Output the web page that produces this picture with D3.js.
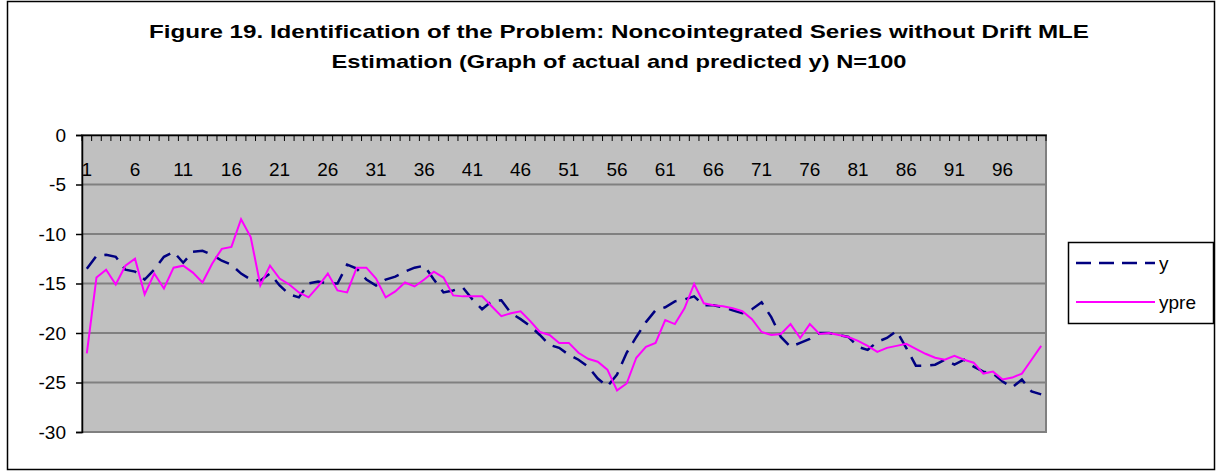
<!DOCTYPE html>
<html>
<head>
<meta charset="utf-8">
<script src="https://cdn.jsdelivr.net/npm/d3@7"></script>
<style>
  body { margin: 0; background: #fff; }
  text { font-family: Arial, "Liberation Sans", sans-serif; }
</style>
</head>
<body>
<div id="chart"></div>
<script>
// categories 1..100
const categories = d3.range(1, 101);

// actual y (dashed navy)
const yActual = [
  -13.5, -12.2, -12.1, -12.3, -13.6, -13.8, -14.6, -13.6, -12.3, -11.8,
  -12.9, -11.8, -11.7, -12.1, -12.7, -13.1, -14.0, -14.6, -14.7, -14.0,
  -15.2, -16.1, -16.4, -15.0, -14.8, -15.0, -15.0, -13.1, -13.5, -14.6,
  -15.2, -14.6, -14.3, -13.8, -13.4, -13.2, -14.6, -15.9, -15.7, -15.4,
  -16.6, -17.6, -16.8, -16.7, -18.0, -18.6, -19.3, -20.2, -21.2, -21.5,
  -22.2, -22.7, -23.4, -24.6, -25.4, -24.2, -22.0, -20.4, -18.9, -17.7,
  -17.4, -16.8, -16.6, -16.3, -17.2, -17.2, -17.4, -17.7, -18.0, -17.6,
  -16.9, -18.4, -20.4, -21.4, -21.0, -20.6, -20.0, -20.0, -20.2, -20.4,
  -21.4, -21.7, -20.9, -20.5, -19.8, -21.5, -23.3, -23.3, -23.2, -22.7,
  -23.2, -22.7, -23.4, -23.9, -24.1, -24.9, -25.5, -24.7, -25.9, -26.2
];

// predicted y (solid magenta)
const yPred = [
  -22.05, -14.4, -13.6, -15.1, -13.2, -12.5, -16.1, -14.0, -15.5, -13.4,
  -13.2, -13.9, -14.9, -13.0, -11.5, -11.3, -8.5, -10.3, -15.2, -13.2,
  -14.5, -15.1, -15.9, -16.4, -15.3, -14.0, -15.7, -15.9, -13.4, -13.4,
  -14.5, -16.4, -15.8, -14.9, -15.3, -14.6, -13.8, -14.4, -16.2, -16.3,
  -16.3, -16.3, -17.3, -18.3, -18.0, -17.8, -18.8, -19.9, -20.2, -21.0,
  -21.0, -22.0, -22.6, -22.9, -23.7, -25.8, -25.1, -22.5, -21.4, -21.0,
  -18.7, -19.1, -17.5, -15.05, -17.0, -17.2, -17.3, -17.5, -17.8, -18.6,
  -19.9, -20.2, -20.1, -19.1, -20.5, -19.1, -20.1, -20.0, -20.2, -20.4,
  -20.8, -21.3, -21.9, -21.5, -21.3, -21.1, -21.6, -22.1, -22.5, -22.7,
  -22.3, -22.7, -23.0, -24.1, -23.9, -24.7, -24.5, -24.1, -22.7, -21.3
];

const xLabels = d3.range(1, 101, 5);
const yTicks = [0, -5, -10, -15, -20, -25, -30];

const titleLines = [
  "Figure 19. Identification of the Problem: Noncointegrated Series without Drift MLE",
  "Estimation (Graph of actual and predicted y) N=100"
];

const width = 1221, height = 474;
const plot = { left: 82, right: 1046, top: 135, bottom: 432 };

const svg = d3.select("#chart").append("svg")
  .attr("width", width)
  .attr("height", height);

// outer chart border
svg.append("rect")
  .attr("x", 7.5).attr("y", 1.5)
  .attr("width", 1207).attr("height", 468)
  .attr("fill", "#fff")
  .attr("stroke", "#000")
  .attr("stroke-width", 1.5);

// title
svg.selectAll("text.title")
  .data(titleLines)
  .enter().append("text")
  .attr("class", "title")
  .attr("x", 619)
  .attr("y", (d, i) => 38 + i * 30)
  .attr("text-anchor", "middle")
  .attr("font-size", "19px")
  .attr("font-weight", "bold")
  .attr("textLength", (d, i) => i === 0 ? 940 : 575)
  .attr("lengthAdjust", "spacingAndGlyphs")
  .text(d => d);

const x = d3.scaleBand()
  .domain(categories)
  .range([plot.left, plot.right])
  .padding(0);

const y = d3.scaleLinear()
  .domain([-30, 0])
  .range([plot.bottom, plot.top]);

// plot area
svg.append("rect")
  .attr("x", plot.left).attr("y", plot.top)
  .attr("width", plot.right - plot.left)
  .attr("height", plot.bottom - plot.top)
  .attr("fill", "#c0c0c0")
  .attr("stroke", "#808080")
  .attr("stroke-width", 2);

// gridlines
svg.append("g")
  .selectAll("line")
  .data(yTicks.filter(d => d !== 0 && d !== -30))
  .enter().append("line")
  .attr("x1", plot.left).attr("x2", plot.right)
  .attr("y1", d => y(d)).attr("y2", d => y(d))
  .attr("stroke", "#808080")
  .attr("stroke-width", 2);

// y axis
const yAxis = svg.append("g")
  .attr("transform", `translate(${plot.left},0)`)
  .call(d3.axisLeft(y).tickValues(yTicks).tickSize(6).tickPadding(10).tickFormat(d => String(d)));
yAxis.select(".domain").attr("stroke", "#000").attr("stroke-width", 1.5);
yAxis.selectAll(".tick line").attr("stroke", "#000").attr("stroke-width", 1.5);
yAxis.selectAll("text")
  .attr("font-size", "19px")
  .attr("font-family", "Arial, 'Liberation Sans', sans-serif")
  .attr("fill", "#000");

// category axis along y = 0 (top of the plot)
const xAxis = svg.append("g")
  .attr("transform", `translate(0,${y(0)})`)
  .call(d3.axisBottom(x).tickValues(xLabels).tickSize(0).tickPadding(28));
xAxis.select(".domain").attr("stroke", "#000").attr("stroke-width", 1.5);
xAxis.selectAll("text")
  .attr("font-size", "19px")
  .attr("font-family", "Arial, 'Liberation Sans', sans-serif")
  .attr("fill", "#000");

// small tick marks between categories
svg.append("g")
  .selectAll("line")
  .data(categories.concat([101]))
  .enter().append("line")
  .attr("x1", d => d === 101 ? plot.right : x(d))
  .attr("x2", d => d === 101 ? plot.right : x(d))
  .attr("y1", y(0))
  .attr("y2", y(0) + 6)
  .attr("stroke", "#000")
  .attr("stroke-width", 1);

const cx = d => x(d) + x.bandwidth() / 2;

// actual y
svg.append("path")
  .datum(categories.map((c, i) => [c, yActual[i]]))
  .attr("fill", "none")
  .attr("stroke", "#000080")
  .attr("stroke-width", 2.5)
  .attr("stroke-dasharray", "15,9")
  .attr("d", d3.line().x(d => cx(d[0])).y(d => y(d[1])));

// predicted y
svg.append("path")
  .datum(categories.map((c, i) => [c, yPred[i]]))
  .attr("fill", "none")
  .attr("stroke", "#ff00ff")
  .attr("stroke-width", 2)
  .attr("d", d3.line().x(d => cx(d[0])).y(d => y(d[1])));

// legend
const legend = svg.append("g").attr("transform", "translate(1068,242)");
legend.append("rect")
  .attr("x", 0.5).attr("y", 0.5)
  .attr("width", 145).attr("height", 81)
  .attr("fill", "#fff")
  .attr("stroke", "#000")
  .attr("stroke-width", 1.5);

const legendItems = [
  { name: "y", color: "#000080", dash: "15,8", w: 2.5 },
  { name: "ypre", color: "#ff00ff", dash: null, w: 2 }
];
const li = legend.selectAll("g.item")
  .data(legendItems)
  .enter().append("g")
  .attr("class", "item")
  .attr("transform", (d, i) => `translate(0,${21 + i * 39})`);
li.append("line")
  .attr("x1", 8).attr("x2", 87)
  .attr("y1", 0).attr("y2", 0)
  .attr("stroke", d => d.color)
  .attr("stroke-width", d => d.w)
  .attr("stroke-dasharray", d => d.dash);
li.append("text")
  .attr("x", 91)
  .attr("y", 0)
  .attr("dy", "0.35em")
  .attr("font-size", "19px")
  .text(d => d.name);
</script>
</body>
</html>
